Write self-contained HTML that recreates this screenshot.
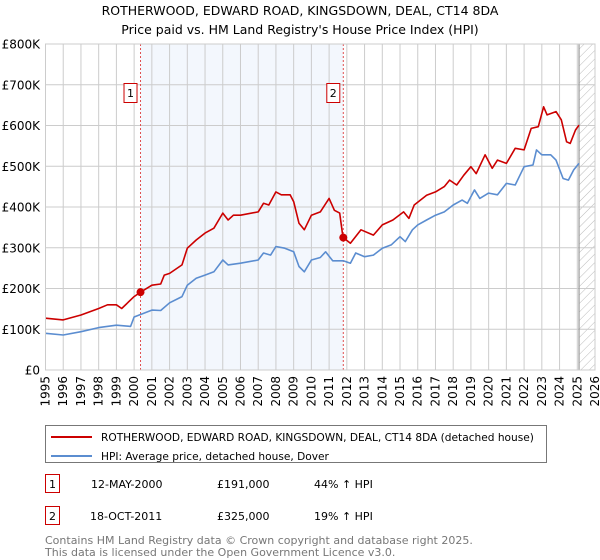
<!DOCTYPE html>
<html><head><meta charset="utf-8">
<style>
body{margin:0;background:#fff;width:600px;height:560px;overflow:hidden;font-family:"DejaVu Sans","Liberation Sans",sans-serif;}
svg{display:block}
</style></head>
<body>
<svg id="chart" width="600" height="560" xmlns="http://www.w3.org/2000/svg" font-family="DejaVu Sans, Liberation Sans, sans-serif">
  <text x="300" y="15" text-anchor="middle" font-size="12.5" fill="#000">ROTHERWOOD, EDWARD ROAD, KINGSDOWN, DEAL, CT14 8DA</text>
  <text x="300" y="34" text-anchor="middle" font-size="12.5" fill="#000">Price paid vs. HM Land Registry's House Price Index (HPI)</text>
  <defs>
    <pattern id="hatch" patternUnits="userSpaceOnUse" width="6" height="6" patternTransform="rotate(45)">
      <line x1="0" y1="0" x2="0" y2="6" stroke="#bbb" stroke-width="1"/>
    </pattern>
  </defs>
  <g id="plot"></g>
  <rect x="45.5" y="425.5" width="501" height="37" fill="#fff" stroke="#777"/>
  <line x1="51" y1="437" x2="92" y2="437" stroke="#cc0000" stroke-width="2"/>
  <text x="101" y="441" font-size="10.6" fill="#000">ROTHERWOOD, EDWARD ROAD, KINGSDOWN, DEAL, CT14 8DA (detached house)</text>
  <line x1="51" y1="456" x2="92" y2="456" stroke="#5b8dd0" stroke-width="2"/>
  <text x="101" y="460" font-size="10.6" fill="#000">HPI: Average price, detached house, Dover</text>

  <g font-size="11" fill="#000">
    <rect x="45.5" y="474.5" width="14" height="18" fill="#fff" stroke="#cc0000"/>
    <text x="52.5" y="488" text-anchor="middle">1</text>
    <text x="91" y="488">12-MAY-2000</text>
    <text x="217" y="488">£191,000</text>
    <text x="314" y="488">44% ↑ HPI</text>
  </g>
  <g font-size="11" fill="#000">
    <rect x="45.5" y="506.5" width="14" height="18" fill="#fff" stroke="#cc0000"/>
    <text x="52.5" y="520" text-anchor="middle">2</text>
    <text x="90" y="520">18-OCT-2011</text>
    <text x="217" y="520">£325,000</text>
    <text x="314" y="520">19% ↑ HPI</text>
  </g>
  <text x="45" y="544" font-size="11" fill="#777">Contains HM Land Registry data © Crown copyright and database right 2025.</text>
  <text x="45" y="556" font-size="11" fill="#777">This data is licensed under the Open Government Licence v3.0.</text>
</svg>
<script>
const yTicks=[0,100000,200000,300000,400000,500000,600000,700000,800000];
const yTickLabels=["£0","£100K","£200K","£300K","£400K","£500K","£600K","£700K","£800K"];
const xYears=[1995,1996,1997,1998,1999,2000,2001,2002,2003,2004,2005,2006,2007,2008,2009,2010,2011,2012,2013,2014,2015,2016,2017,2018,2019,2020,2021,2022,2023,2024,2025,2026];
const hpiT=[1995,1996,1997,1998,1999,1999.8,2000,2000.4,2001,2001.5,2002,2002.7,2003,2003.5,2004,2004.5,2005,2005.3,2006,2007,2007.3,2007.7,2008,2008.5,2009,2009.3,2009.6,2010,2010.5,2010.8,2011.2,2011.8,2012.2,2012.5,2013,2013.5,2014,2014.5,2015,2015.3,2015.7,2016,2016.5,2017,2017.5,2018,2018.5,2018.8,2019.2,2019.5,2020,2020.5,2021,2021.5,2022,2022.5,2022.7,2023,2023.5,2023.8,2024.2,2024.5,2024.8,2025.1];
const hpiV=[90,86,94,104,110,107,130,137,147,146,165,180,208,225,233,241,270,258,262,270,287,282,303,299,290,254,241,270,276,290,268,268,262,287,278,282,299,307,327,315,344,356,368,380,388,405,417,409,442,421,434,430,458,454,499,503,540,528,528,515,470,466,491,507];
const priceT=[1995,1996,1997,1998,1998.5,1999,1999.3,2000,2000.36,2001,2001.5,2001.7,2002,2002.7,2003,2003.5,2004,2004.5,2005,2005.3,2005.6,2006,2007,2007.3,2007.6,2008,2008.3,2008.8,2009,2009.3,2009.6,2010,2010.5,2011,2011.3,2011.6,2011.75,2011.8,2012.2,2012.8,2013.5,2014,2014.6,2015.2,2015.5,2015.8,2016.5,2017,2017.5,2017.8,2018.2,2018.6,2019,2019.3,2019.8,2020.2,2020.5,2021,2021.5,2022,2022.4,2022.8,2023.1,2023.3,2023.8,2024.1,2024.4,2024.6,2024.9,2025.1];
const priceV=[127,123,135,151,160,160,151,180,191,208,211,233,237,258,299,319,336,348,385,368,380,380,388,409,405,437,430,430,413,360,344,380,388,421,392,385,336,325,311,344,331,356,368,388,372,405,429,437,450,466,454,478,499,482,528,495,515,507,544,540,593,597,646,626,634,614,560,556,589,601];
const sales=[{n:"1",t:2000.36,v:191},{n:"2",t:2011.8,v:325}];

const X0=45.5,X1=595,Y0=370,Y1=44,T0=1995,T1=2026,VMAX=800;
const xs=t=>X0+(t-T0)/(T1-T0)*(X1-X0);
const ys=v=>Y0-v/VMAX*(Y0-Y1);
const NS="http://www.w3.org/2000/svg";
const g=document.getElementById('plot');
function mk(tag,attrs,parent){const e=document.createElementNS(NS,tag);for(const k in attrs)e.setAttribute(k,attrs[k]);(parent||g).appendChild(e);return e;}

const bg=mk('rect',{x:X0,y:Y1,width:X1-X0,height:Y0-Y1,fill:'#fff'});


const shade=mk('rect',{x:xs(sales[0].t),y:Y1,width:xs(sales[1].t)-xs(sales[0].t),height:Y0-Y1,fill:'#eef3fc',opacity:0.7});


const hatch=mk('rect',{x:xs(2025.1),y:Y1,width:X1-xs(2025.1),height:Y0-Y1,fill:'url(#hatch)'});



xYears.forEach(yr=>{
  const l=mk('line',{x1:xs(yr),x2:xs(yr),y1:Y1,y2:Y0,stroke:'#ccc','stroke-width':1});
  
  
  const x=xs(yr);
  const t=mk('text',{x:x+4,y:376,'font-size':12,'text-anchor':'end',transform:`rotate(-90 ${x+4} 376)`,fill:'#000'});
  t.textContent=yr;
  
  
});
yTicks.forEach((v,i)=>{
  const l=mk('line',{x1:X0,x2:X1,y1:ys(v/1000),y2:ys(v/1000),stroke:'#ccc','stroke-width':1});
  
  
  const t=mk('text',{x:40,y:ys(v/1000)+4.5,'font-size':12,'text-anchor':'end',fill:'#000'});
  t.textContent=yTickLabels[i];
  
  
});
const vl=mk('line',{x1:xs(2025.1),x2:xs(2025.1),y1:Y1,y2:Y0,stroke:'#999','stroke-width':1.2});



sales.forEach(s=>{
  const l=mk('line',{x1:xs(s.t),x2:xs(s.t),y1:Y1,y2:Y0,stroke:'#e05050','stroke-width':1,'stroke-dasharray':'2,2'});
  
  
});

function path(T,V,color,name){
  const d=T.map((t,i)=>(i?'L':'M')+xs(t).toFixed(1)+','+ys(V[i]).toFixed(1)).join('');
  const p=mk('path',{d:d,fill:'none',stroke:color,'stroke-width':1.6,'stroke-linejoin':'round'});
  
  
}
path(hpiT,hpiV,'#5b8dd0','hpi-line');
path(priceT,priceV,'#cc0000','property-price-line');

sales.forEach(s=>{
  const c=mk('circle',{cx:xs(s.t),cy:ys(s.v),r:4,fill:'#cc0000'});
  
  
  const bx=xs(s.t)-10;
  const r=mk('rect',{x:bx-6.5,y:83.5,width:13,height:19,fill:'#fff',stroke:'#cc0000'});
  
  
  const t=mk('text',{x:bx,y:97,'font-size':11,'text-anchor':'middle',fill:'#000'});
  t.textContent=s.n;
  
  
});
const border=mk('rect',{x:X0,y:Y1,width:X1-X0,height:Y0-Y1,fill:'none',stroke:'#ccc'});


</script>
</body></html>
